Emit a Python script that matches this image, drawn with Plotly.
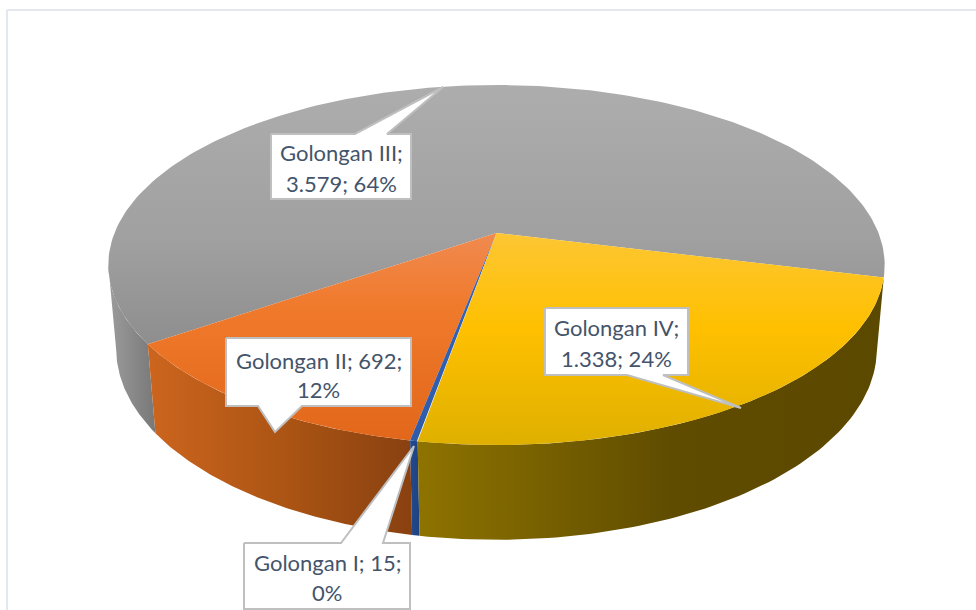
import numpy as np
import plotly.graph_objects as go

# --- data ---
categories = ["Golongan I", "Golongan II", "Golongan III", "Golongan IV"]
values = [15, 692, 3579, 1338]
label_lines = [
    ["Golongan I; 15;", "0%"],
    ["Golongan II; 692;", "12%"],
    ["Golongan III;", "3.579; 64%"],
    ["Golongan IV;", "1.338; 24%"],
]

# --- styling / layout ---
# top faces: listed bottom-of-screen first, because the y axis runs downward
top_colors = [
    [[0, "#2f5ba8"], [1, "#3566bd"]],
    [[0, "#e2671a"], [0.65, "#f07a2c"], [1, "#f08a50"]],
    [[0, "#8e8e8e"], [0.4, "#a0a0a0"], [1, "#adadad"]],
    [[0, "#dfb000"], [0.55, "#ffc000"], [1, "#fdc633"]],
]
wall_colors = [
    [[0, "#234a8f"], [1, "#1f4280"]],
    [[0, "#cc651e"], [0.5, "#ad5514"], [1, "#894110"]],
    [[0, "#9c9c9c"], [1, "#787878"]],
    [[0, "#8e7300"], [0.55, "#5f4c00"], [1, "#5c4900"]],
]
box_rects = [(244, 543, 410, 609), (226, 338, 411, 406), (271, 134, 411, 199), (545, 308, 688, 375)]
tails = [((341, 383), (414, 446)), ((258, 302), (275, 432)), ((355, 387), (443, 87)), ((627, 663), (741, 408))]
line_pos = [(562, 592), (360, 389), (152, 183), (327, 358)]

CX, CY, RX, RY, K, H, M = 496.5, 233.0, 382.0, 174.3, 0.178, 84.0, 0.02
START = -99.8


def project(deg, z):
    a = np.radians(deg)
    u, v = np.cos(a), np.sin(a)
    w = 1 + K * v + M * z
    return CX + RX * u / w, CY + (-RY * v + H * z) / w


shares = np.array(values) / sum(values) * 360
ends = START - np.cumsum(shares)
starts = ends + shares
LEFT_TANGENT = -180 + np.degrees(np.arcsin(K))

fig = go.Figure()


def poly(xs, ys, cs, kind):
    fig.add_trace(go.Scatter(
        x=xs, y=ys, mode="lines", fill="toself", line=dict(width=0),
        fillgradient=dict(type=kind, colorscale=cs),
        hoverinfo="skip", showlegend=False))


# walls: only the front-facing part of each slice's rim
draw_order = [2, 1, 0, 3]
for i in draw_order:
    a0, a1 = starts[i], ends[i]
    if i == 2:
        a1 = LEFT_TANGENT
    t = np.linspace(a0, a1, 80)
    x0, y0 = project(t, 0)
    x1, y1 = project(t, 1)
    poly(np.r_[x0, x1[::-1], x0[0]], np.r_[y0, y1[::-1], y0[0]], wall_colors[i], "horizontal")

# tops
for i in draw_order:
    t = np.linspace(starts[i], ends[i], 200)
    x0, y0 = project(t, 0)
    poly(np.r_[CX, x0, CX], np.r_[CY, y0, CY], top_colors[i], "vertical")

# callouts
for (x0, y0, x1, y1), (base, tip), in zip(box_rects, tails):
    if tip[1] < y0:
        xs = [x0, base[0], tip[0], base[1], x1, x1, x0, x0]
        ys = [y0, y0, tip[1], y0, y0, y1, y1, y0]
    else:
        xs = [x0, x1, x1, base[1], tip[0], base[0], x0, x0]
        ys = [y0, y0, y1, y1, tip[1], y1, y1, y0]
    fig.add_trace(go.Scatter(
        x=xs, y=ys, mode="lines", fill="toself", fillcolor="white",
        line=dict(color="#bfbfbf", width=2), hoverinfo="skip", showlegend=False))

for lines, ys, (x0, _, x1, _) in zip(label_lines, line_pos, box_rects):
    for txt, y in zip(lines, ys):
        fig.add_annotation(x=(x0 + x1) / 2, y=y, text=txt, showarrow=False,
                           xanchor="center", yanchor="middle",
                           font=dict(family="Lato", size=22, color="#44546a"))

frame = dict(type="line", line=dict(color="#e3e8ef", width=2), layer="below")
fig.add_shape(x0=7, x1=976, y0=10, y1=10, **frame)
fig.add_shape(x0=7, x1=7, y0=10, y1=610, **frame)

fig.update_layout(
    width=976, height=610, margin=dict(l=0, r=0, t=0, b=0),
    paper_bgcolor="white", plot_bgcolor="white", showlegend=False,
    xaxis=dict(range=[0, 976], visible=False, fixedrange=True),
    yaxis=dict(range=[610, 0], visible=False, fixedrange=True),
)
fig.write_html("out.html", config=dict(displayModeBar=False),
               post_script="document.body.style.margin='0';document.documentElement.style.overflow='hidden';")
